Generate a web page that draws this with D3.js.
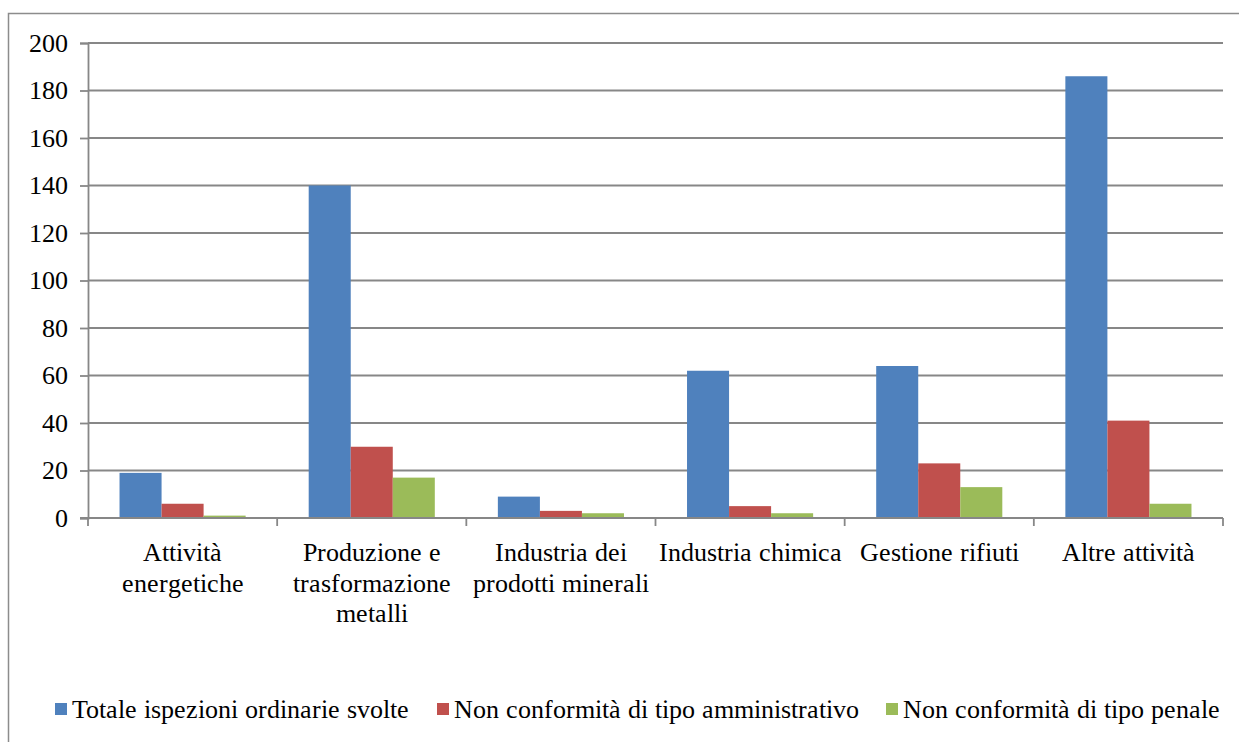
<!DOCTYPE html>
<html>
<head>
<meta charset="utf-8">
<script src="https://cdn.jsdelivr.net/npm/d3@7/dist/d3.min.js"></script>
<style>
  @font-face { font-family: "ChartSerif"; src: local("Liberation Serif"), local("LiberationSerif"), local("Times New Roman"); font-weight: normal; font-style: normal; }
  html, body { margin: 0; padding: 0; background: #fff; }
  svg { display: block; }
  .lbl { font-family: "ChartSerif", "Liberation Serif", "Times New Roman", serif; font-size: 26px; fill: #000; }
</style>
</head>
<body>
<svg id="chart" width="1239" height="742"></svg>
<script>
// Categories (each entry is the wrapped label lines under the axis)
const categories = [
  "Attività energetiche",
  "Produzione e trasformazione metalli",
  "Industria dei prodotti minerali",
  "Industria chimica",
  "Gestione rifiuti",
  "Altre attività"
];
const categoryLines = [
  ["Attività", "energetiche"],
  ["Produzione e", "trasformazione", "metalli"],
  ["Industria dei", "prodotti minerali"],
  ["Industria chimica"],
  ["Gestione rifiuti"],
  ["Altre attività"]
];
const seriesNames = [
  "Totale ispezioni ordinarie svolte",
  "Non conformità di tipo amministrativo",
  "Non conformità di tipo penale"
];
const totaleIspezioni = [19, 140, 9, 62, 64, 186];
const nonConfAmministrativo = [6, 30, 3, 5, 23, 41];
const nonConfPenale = [1, 17, 2, 2, 13, 6];
const yTicks = [0, 20, 40, 60, 80, 100, 120, 140, 160, 180, 200];
const colors = ["#4F81BD", "#C0504D", "#9BBB59"];

const seriesValues = [totaleIspezioni, nonConfAmministrativo, nonConfPenale];

const svg = d3.select("#chart");
const gridColor = "#878787";

// outer chart frame
svg.append("rect")
  .attr("x", 8.5).attr("y", 13.5)
  .attr("width", 1260).attr("height", 760)
  .attr("fill", "none").attr("stroke", "#8c8c8c").attr("stroke-width", 1.5);

const plot = { left: 88, right: 1223, top: 43, bottom: 518 };

const y = d3.scaleLinear().domain([0, 200]).range([plot.bottom, plot.top]);
const x0 = d3.scaleBand().domain(categories).range([plot.left, plot.right]).paddingInner(0).paddingOuter(0);
const bw = x0.bandwidth();
const x1 = d3.scaleBand().domain(seriesNames).range([bw / 6, bw * 5 / 6]).padding(0);

// horizontal gridlines
svg.append("g")
  .selectAll("line")
  .data(yTicks.filter(d => d !== 0))
  .join("line")
  .attr("x1", plot.left).attr("x2", plot.right)
  .attr("y1", d => y(d)).attr("y2", d => y(d))
  .attr("stroke", gridColor).attr("stroke-width", 1.8);

// bars
const groups = svg.append("g")
  .selectAll("g")
  .data(categories)
  .join("g")
  .attr("transform", d => `translate(${x0(d)},0)`);

groups.selectAll("rect")
  .data((c, i) => seriesNames.map((s, k) => ({ s, k, v: seriesValues[k][i] })))
  .join("rect")
  .attr("x", d => x1(d.s))
  .attr("width", x1.bandwidth())
  .attr("y", d => y(d.v))
  .attr("height", d => y(0) - y(d.v))
  .attr("fill", d => colors[d.k]);

// y axis
const yAxis = d3.axisLeft(y).tickValues(yTicks).tickSize(8).tickPadding(12).tickFormat(d3.format("d"));
const yg = svg.append("g").attr("transform", `translate(${plot.left},0)`).call(yAxis);
yg.attr("font-family", null).attr("font-size", null);
yg.select(".domain").attr("stroke", gridColor).attr("stroke-width", 1.8);
yg.selectAll(".tick line").attr("stroke", gridColor).attr("stroke-width", 1.8);
yg.selectAll(".tick text").attr("fill", null).attr("class", "lbl");

// x axis with ticks at category boundaries
const xg = svg.append("g");
xg.append("line")
  .attr("x1", plot.left - 8).attr("x2", plot.right)
  .attr("y1", y(0)).attr("y2", y(0))
  .attr("stroke", gridColor).attr("stroke-width", 2);
const boundaries = categories.map(c => x0(c)).concat([plot.right]);
xg.selectAll("line.tick")
  .data(boundaries)
  .join("line")
  .attr("class", "tick")
  .attr("x1", d => d).attr("x2", d => d)
  .attr("y1", y(0)).attr("y2", y(0) + 8)
  .attr("stroke", gridColor).attr("stroke-width", 1.8);

// category labels
const labels = svg.append("g");
categories.forEach((c, i) => {
  const t = labels.append("text")
    .attr("class", "lbl")
    .attr("x", x0(c) + bw / 2)
    .attr("y", 561)
    .attr("text-anchor", "middle");
  categoryLines[i].forEach((line, j) => {
    t.append("tspan")
      .attr("x", x0(c) + bw / 2)
      .attr("dy", j === 0 ? 0 : 30.5)
      .text(line);
  });
});

// legend
const legendX = [55, 437, 886];
const legend = svg.append("g");
seriesNames.forEach((s, k) => {
  legend.append("rect")
    .attr("x", legendX[k]).attr("y", 703)
    .attr("width", 12).attr("height", 12)
    .attr("fill", colors[k]);
  legend.append("text")
    .attr("class", "lbl")
    .attr("x", legendX[k] + 17).attr("y", 718)
    .text(s);
});
</script>
</body>
</html>
